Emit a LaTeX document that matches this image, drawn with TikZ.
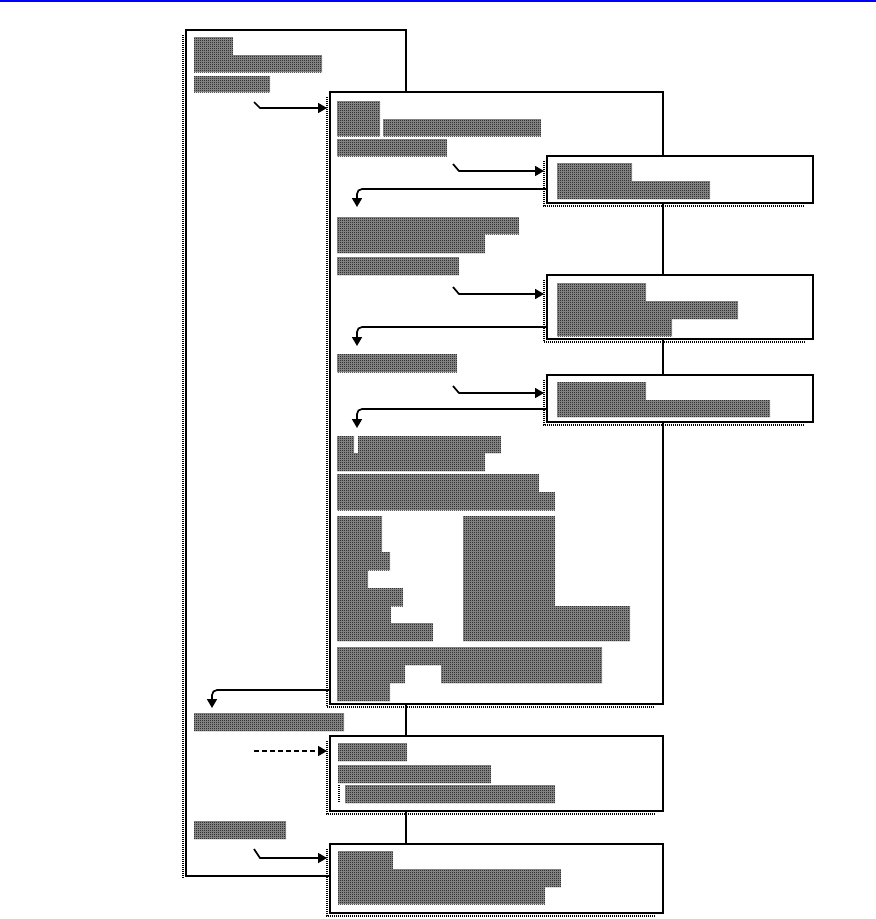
\documentclass[tikz,border=0pt]{standalone}
\usetikzlibrary{arrows.meta,patterns.meta}
\pgfdeclarepattern{name=greekcheck, type=uncolored,
  bottom left={\pgfpoint{0pt}{0pt}}, top right={\pgfpoint{2pt}{2pt}},
  tile size={\pgfpoint{2pt}{2pt}},
  code={\pgfpathrectangle{\pgfpoint{0pt}{0pt}}{\pgfpoint{1pt}{1pt}}
        \pgfpathrectangle{\pgfpoint{1pt}{1pt}}{\pgfpoint{1pt}{1pt}}
        \pgfusepath{fill}}}
\begin{document}
\begin{tikzpicture}[x=1pt,y=-1pt,
  box/.style={draw, line width=2pt, fill=white, inner sep=0pt, outer sep=0pt, anchor=north west},
  greek/.style={preaction={fill=black!42}, pattern=greekcheck, pattern color=black},
  shade/.style={line width=1.3pt, dash pattern=on 1pt off 1pt},
  conn/.style={line width=1.7pt, -{Triangle[length=9pt,width=10pt]}},
  hookconn/.style={conn, shorten >=3pt},
  retconn/.style={conn, rounded corners=5pt}
]
\useasboundingbox (0,0) rectangle (876,919);
\fill[blue] (0,0) rectangle (876,2);

\newcommand{\shadowof}[1]{\draw[shade] ([shift={(-3,5)}]#1.north west) -- ([shift={(-3,3)}]#1.south west) -- ([shift={(-8,3)}]#1.south east);}

% ---------- box 1 ----------
\node[box, minimum width=220pt, minimum height=846pt] (b1) at (186,30) {};
\draw[shade] ([shift={(-3,5)}]b1.north west) -- ([shift={(-3,2)}]b1.south west);
\fill[greek] (194,37) rectangle (233,55);
\fill[greek] (194,55) rectangle (322,72);
\fill[greek] (194,76) rectangle (270,92);
\fill[greek] (194,713) rectangle (344,731);
\fill[greek] (194,821) rectangle (286,839);

% ---------- box 2 ----------
\node[box, minimum width=333pt, minimum height=612pt] (b2) at (330,92) {};
\shadowof{b2}
\fill[greek] (337,101) rectangle (380,136);
\fill[greek] (383,119) rectangle (541,136);
\fill[greek] (337,139) rectangle (447,156);
\fill[greek] (337,217) rectangle (519,234);
\fill[greek] (337,234) rectangle (485,253);
\fill[greek] (337,257) rectangle (459,275);
\fill[greek] (337,354) rectangle (457,372);
\fill[greek] (337,436) rectangle (354,453);
\fill[greek] (358,436) rectangle (501,453);
\fill[greek] (337,453) rectangle (485,471);
\fill[greek] (337,474) rectangle (539,492);
\fill[greek] (337,492) rectangle (555,510);
\fill[greek] (337,516) rectangle (382,552);
\fill[greek] (337,552) rectangle (390,570);
\fill[greek] (337,570) rectangle (368,588);
\fill[greek] (337,588) rectangle (403,606);
\fill[greek] (337,606) rectangle (391,623);
\fill[greek] (337,623) rectangle (433,641);
\fill[greek] (463,516) rectangle (555,606);
\fill[greek] (463,606) rectangle (630,641);
\fill[greek] (337,647) rectangle (602,665);
\fill[greek] (337,665) rectangle (405,683);
\fill[greek] (441,665) rectangle (602,683);
\fill[greek] (337,683) rectangle (390,701);

% ---------- sub boxes ----------
\node[box, minimum width=266pt, minimum height=47pt] (bA) at (547,156) {};
\shadowof{bA}
\fill[greek] (557,163) rectangle (632,181);
\fill[greek] (557,181) rectangle (710,199);

\node[box, minimum width=266pt, minimum height=64pt] (bB) at (547,275) {};
\shadowof{bB}
\fill[greek] (557,283) rectangle (646,301);
\fill[greek] (557,301) rectangle (738,319);
\fill[greek] (557,319) rectangle (672,336);

\node[box, minimum width=266pt, minimum height=47pt] (bC) at (547,375) {};
\shadowof{bC}
\fill[greek] (557,382) rectangle (646,400);
\fill[greek] (557,400) rectangle (770,417);

% ---------- box 3 ----------
\node[box, minimum width=333pt, minimum height=75pt] (b3) at (330,736) {};
\shadowof{b3}
\fill[greek] (338,743) rectangle (407,761);
\fill[greek] (338,765) rectangle (491,783);
\fill[greek] (345,785) rectangle (555,803);
\draw[shade] (339,785) -- (339,803);

% ---------- box 4 ----------
\node[box, minimum width=333pt, minimum height=69pt] (b4) at (330,844) {};
\shadowof{b4}
\fill[greek] (338,851) rectangle (393,869);
\fill[greek] (338,869) rectangle (561,887);
\fill[greek] (338,887) rectangle (545,904);

% ---------- connectors ----------
\coordinate (h1) at (254,102); \coordinate (h1e) at (260,108);
\draw[hookconn] (h1) -- (h1e) -- (h1e -| b2.west);
\coordinate (h2) at (453,164); \coordinate (h2e) at (459,171);
\draw[hookconn] (h2) -- (h2e) -- (h2e -| bA.west);
\coordinate (h3) at (453,287); \coordinate (h3e) at (459,294);
\draw[hookconn] (h3) -- (h3e) -- (h3e -| bB.west);
\coordinate (h4) at (453,386); \coordinate (h4e) at (459,393);
\draw[hookconn] (h4) -- (h4e) -- (h4e -| bC.west);
\coordinate (h5) at (254,849); \coordinate (h5e) at (260,858);
\draw[hookconn] (h5) -- (h5e) -- (h5e -| b4.west);
\coordinate (d1) at (254,751);
\draw[hookconn, dash pattern=on 5pt off 3pt] (d1) -- (d1 -| b3.west);

\coordinate (rA) at (357,189);
\draw[retconn] (rA -| bA.west) -- (rA) -- ++(0,18);
\coordinate (rB) at (357,327);
\draw[retconn] (rB -| bB.west) -- (rB) -- ++(0,19);
\coordinate (rC) at (357,409);
\draw[retconn] (rC -| bC.west) -- (rC) -- ++(0,19);
\coordinate (r2) at (212,690);
\draw[retconn] (r2 -| b2.west) -- (r2) -- ++(0,18);
\end{tikzpicture}
\end{document}
